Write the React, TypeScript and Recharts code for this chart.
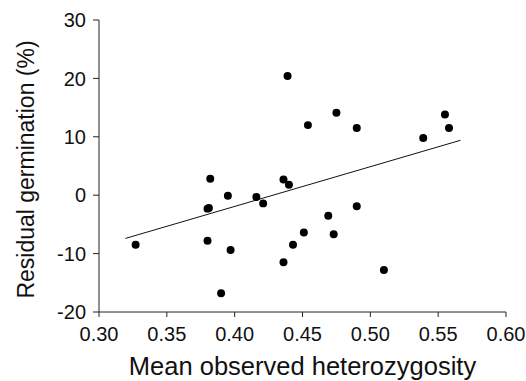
import React from 'react';
import { ScatterChart, Scatter, XAxis, YAxis, ZAxis, ReferenceLine, Label } from 'recharts';

const heterozygosity = [
  0.327, 0.38, 0.38, 0.381, 0.382, 0.39, 0.395, 0.397, 0.416, 0.421, 0.436, 0.436, 0.439,
  0.44, 0.443, 0.451, 0.454, 0.469, 0.473, 0.475, 0.49, 0.49, 0.51, 0.539, 0.555, 0.558,
];
const residualGermination = [
  -8.5, -7.8, -2.3, -2.2, 2.8, -16.8, -0.1, -9.4, -0.3, -1.4, 2.7, -11.5, 20.4,
  1.8, -8.5, -6.4, 12.0, -3.5, -6.7, 14.1, 11.5, -1.9, -12.8, 9.8, 13.8, 11.5,
];
const fitLineX = [0.3195, 0.5664];
const fitLineY = [-7.4, 9.4];
const xTicks = [0.3, 0.35, 0.4, 0.45, 0.5, 0.55, 0.6];
const yTicks = [-20, -10, 0, 10, 20, 30];

const points = heterozygosity.map((x, i) => ({ x, y: residualGermination[i] }));
const segment = fitLineX.map((x, i) => ({ x, y: fitLineY[i] }));

const FONT = 'Liberation Sans, Arial, Helvetica, sans-serif';
const AXIS_COLOR = '#222';

export default function App() {
  return (
    <div style={{ position: 'absolute', left: 0, top: 0, background: '#fff' }}>
      <ScatterChart width={526} height={381} margin={{ top: 20, right: 20, bottom: 0, left: 0 }}>
        <XAxis
          type="number"
          dataKey="x"
          domain={[0.3, 0.6]}
          ticks={xTicks}
          tickFormatter={(v: number) => v.toFixed(2)}
          height={69}
          tickSize={5}
          tickMargin={10}
          stroke={AXIS_COLOR}
          tick={{ fill: '#111', fontSize: 20, fontFamily: FONT }}
          allowDataOverflow
        >
          <Label
            value="Mean observed heterozygosity"
            position="insideBottom"
            offset={6}
            style={{ fill: '#111', fontSize: 25.5, fontFamily: FONT }}
          />
        </XAxis>
        <YAxis
          type="number"
          dataKey="y"
          domain={[-20, 30]}
          ticks={yTicks}
          width={99}
          tickSize={6}
          tickMargin={7}
          stroke={AXIS_COLOR}
          tick={{ fill: '#111', fontSize: 20, fontFamily: FONT }}
          allowDataOverflow
        >
          <Label
            content={(props: any) => {
              const vb = props.viewBox || { x: 0, y: 20, width: 99, height: 292 };
              const cx = 34;
              const cy = vb.y + vb.height / 2 + 3.5;
              return (
                <text
                  x={cx}
                  y={cy}
                  transform={`rotate(-90, ${cx}, ${cy})`}
                  textAnchor="middle"
                  style={{ fill: '#111', fontSize: 23, fontFamily: FONT }}
                >
                  Residual germination (%)
                </text>
              );
            }}
          />
        </YAxis>
        <ZAxis range={[50, 50]} />
        <ReferenceLine
          segment={segment}
          stroke="#111"
          strokeWidth={1}
          ifOverflow="extendDomain"
        />
        <Scatter data={points} fill="#000" isAnimationActive={false} />
      </ScatterChart>
    </div>
  );
}
